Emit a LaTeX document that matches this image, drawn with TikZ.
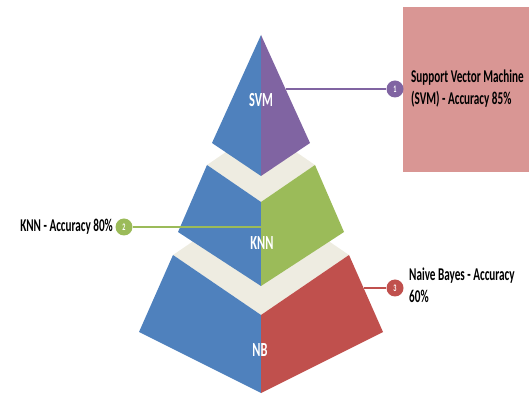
\documentclass[tikz,border=0pt]{standalone}
\usepackage{fontspec}
\setmainfont{Carlito}[FakeStretch=0.62]
\usetikzlibrary{positioning}
\definecolor{tblue}{HTML}{4F81BD}
\definecolor{tpurple}{HTML}{8064A2}
\definecolor{tgreen}{HTML}{9BBB59}
\definecolor{tred}{HTML}{C0504D}
\definecolor{tcream}{HTML}{EEECE1}
\definecolor{tpink}{HTML}{D99694}

\begin{document}
\begin{tikzpicture}[
	tierlabel/.style={text=white,font=\fontsize{20}{20}\selectfont\bfseries,inner sep=0pt},
	marker/.style={circle,inner sep=0pt,minimum size=17pt,text=white,font=\fontsize{10}{10}\selectfont\bfseries},
	callout/.style={font=\fontsize{18}{22}\selectfont\bfseries,inner sep=0pt,align=left}]
	\useasboundingbox (0pt,0pt) rectangle (529pt,417pt);

	% bottom tier (NB)
	\fill[tcream] (173pt,162pt) -- (261pt,102pt) -- (349pt,162pt) -- (261pt,222pt) -- cycle;
	\fill[tblue] (173pt,162pt) -- (261pt,102pt) -- (261pt,24pt) -- (139pt,85pt) -- cycle;
	\fill[tred] (349pt,162pt) -- (261pt,102pt) -- (261pt,24pt) -- (383pt,85pt) -- cycle;

	% middle tier (KNN)
	\fill[tcream] (207pt,252pt) -- (261pt,215pt) -- (315pt,252pt) -- (261pt,289pt) -- cycle;
	\fill[tblue] (207pt,252pt) -- (261pt,215pt) -- (261pt,131pt) -- (178pt,185pt) -- cycle;
	\fill[tgreen] (315pt,252pt) -- (261pt,215pt) -- (261pt,131pt) -- (344pt,185pt) -- cycle;

	% top tier (SVM)
	\fill[tblue] (261pt,382pt) -- (212pt,274pt) -- (261pt,241pt) -- cycle;
	\fill[tpurple] (261pt,382pt) -- (310pt,274pt) -- (261pt,241pt) -- cycle;

	\node[tierlabel] (svm) at (261pt,317pt){SVM};
	\node[tierlabel] (knn) at (262pt,174pt){KNN};
	\node[tierlabel] (nb) at (260pt,67pt){NB};

	% callouts
	\fill[tpink] (403pt,245pt) rectangle (529pt,410pt);
	\node[marker,fill=tpurple] (m1) at (395pt,328pt){1};
	\node[marker,fill=tgreen] (m2) at (124pt,190pt){2};
	\node[marker,fill=tred] (m3) at (395pt,129pt){3};
	\coordinate (e1) at (286pt,328pt);
	\coordinate (e2) at (261pt,190pt);
	\coordinate (e3) at (364pt,129pt);
	\draw[tpurple,line width=2.5pt] (e1) -- (m1);
	\draw[tgreen,line width=2.5pt] (e2) -- (m2);
	\draw[tred,line width=2.5pt] (e3) -- (m3);

	\node[callout,anchor=west] (t1) at (411pt,328pt){Support Vector Machine\\(SVM) - Accuracy 85\%};
	\node[callout,anchor=east] (t2) at (113pt,190pt){KNN - Accuracy 80\%};
	\node[callout,anchor=west] (t3) at (409pt,132pt){Naive Bayes - Accuracy\\60\%};
\end{tikzpicture}
\end{document}
